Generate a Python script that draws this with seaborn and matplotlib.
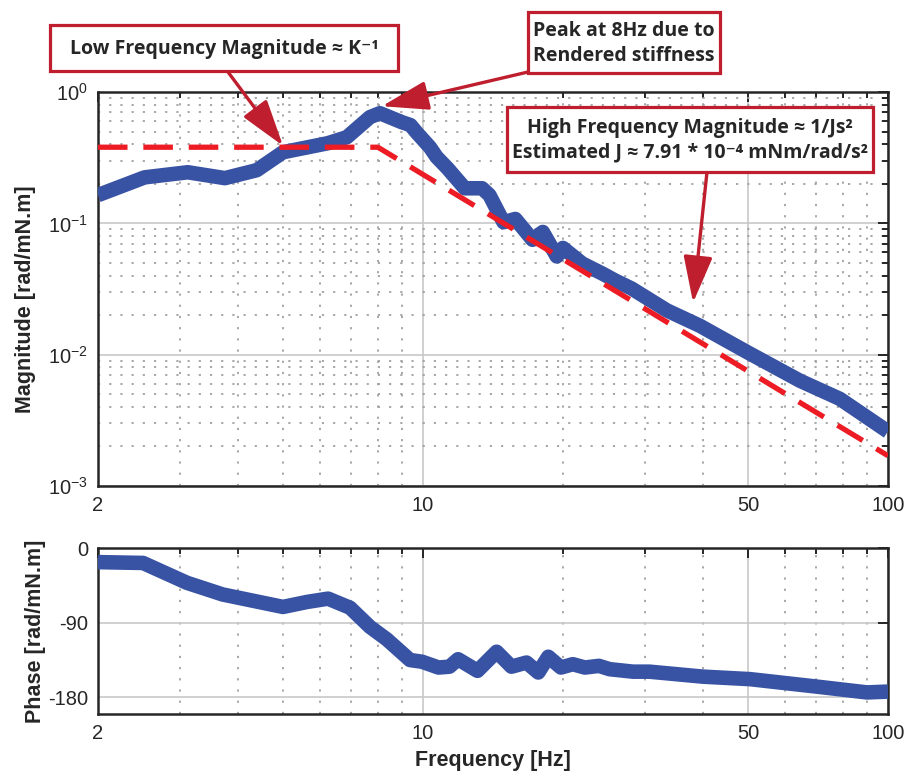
import numpy as np
import pandas as pd
import matplotlib
matplotlib.use("Agg")
import matplotlib.pyplot as plt
import matplotlib.ticker as mticker
from matplotlib.patches import Rectangle
import seaborn as sns

# Magnitude response
mag_freq = [2.0, 2.52, 3.12, 3.75, 4.39, 5.0, 6.25, 6.86, 7.69, 8.08, 9.0, 9.4, 9.7,
            10.35, 10.7, 11.3, 12.3, 13.4, 13.9, 14.9, 15.8, 17.2, 18.1, 19.4, 20.0,
            22.0, 24.3, 25.9, 28.1, 33.5, 39.4, 49.7, 64.7, 78.8, 100.0]
mag_vals = [0.164, 0.224, 0.245, 0.221, 0.254, 0.348, 0.408, 0.453, 0.644, 0.69, 0.59, 0.56, 0.49,
            0.38, 0.32, 0.262, 0.185, 0.185, 0.164, 0.102, 0.108, 0.075, 0.086, 0.056, 0.065,
            0.0495, 0.0415, 0.0367, 0.0319, 0.0217, 0.0166, 0.0105, 0.00633, 0.00461, 0.0026]

# Fitted model (K^-1 plateau, then 1/Js^2 roll-off)
model_freq = [2.0, 8.0, 100.0]
model_vals = [0.38, 0.38, 0.0017]

# Phase response
phase_freq = [2.0, 2.5, 3.11, 3.71, 5.0, 5.63, 6.25, 6.97, 7.69, 8.36, 9.38, 9.95, 10.8,
              11.4, 11.9, 13.1, 14.4, 15.5, 16.7, 17.7, 18.6, 19.8, 21.0, 22.3, 23.9,
              25.2, 28.3, 30.7, 40.0, 50.5, 70.3, 90.1, 100.0]
phase_vals = [-17, -18, -42, -56, -71, -65, -61, -72, -95, -110, -135, -137, -144,
              -143, -134, -148, -125, -143, -138, -150, -131, -144, -140, -144, -142,
              -146, -149, -149, -155, -158, -167, -174, -173]

freq_ticks = [2, 10, 50, 100]
freq_minor = [3, 4, 5, 6, 7, 8, 9, 20, 30, 40, 60, 70, 80, 90]
phase_ticks = [-180, -90, 0]

BLUE = "#3953a4"
RED_DASH = "#ed1c24"
RED_BOX = "#be1e2d"
INK = "#262626"

sns.set_theme(style="white")
plt.rcParams["font.family"] = ["Liberation Sans", "DejaVu Sans"]
plt.rcParams["mathtext.fontset"] = "custom"
plt.rcParams["mathtext.rm"] = "Liberation Sans"
plt.rcParams["mathtext.it"] = "Liberation Sans"
plt.rcParams["axes.unicode_minus"] = False

mag_df = pd.DataFrame({"freq": mag_freq, "mag": mag_vals})
model_df = pd.DataFrame({"freq": model_freq, "mag": model_vals})
phase_df = pd.DataFrame({"freq": phase_freq, "phase": phase_vals})

W, H = 907, 776
fig = plt.figure(figsize=(W / 100, H / 100), dpi=100)
ax1 = fig.add_axes([0.108, 0.3737, 0.871, 0.5077])
ax2 = fig.add_axes([0.108, 0.0799, 0.871, 0.2139])


def style_axes(ax):
    ax.set_xscale("log")
    ax.set_xlim(2, 100)
    ax.xaxis.set_major_locator(mticker.FixedLocator(freq_ticks))
    ax.xaxis.set_minor_locator(mticker.FixedLocator(freq_minor))
    ax.xaxis.set_major_formatter(mticker.FixedFormatter([str(t) for t in freq_ticks]))
    ax.xaxis.set_minor_formatter(mticker.NullFormatter())
    ax.grid(which="major", color="#c8c8c8", linestyle="-", linewidth=1.2)
    ax.grid(which="minor", axis="x", color="#a0a0a0", linestyle=(0, (1.2, 5)), linewidth=1.3)
    ax.tick_params(which="both", direction="in", top=True, right=True,
                   color=INK, width=1.4, labelsize=14.5, colors=INK)
    ax.tick_params(which="major", length=7, pad=7)
    ax.tick_params(which="minor", length=4)
    for sp in ax.spines.values():
        sp.set_linewidth(1.8)
        sp.set_color(INK)
        sp.set_visible(True)
    ax.set_axisbelow(True)


# Magnitude plot
sns.lineplot(data=mag_df, x="freq", y="mag", ax=ax1, color=BLUE, linewidth=10.5,
             solid_joinstyle="round", solid_capstyle="butt", zorder=3)
sns.lineplot(data=model_df, x="freq", y="mag", ax=ax1, color=RED_DASH, linewidth=3.8,
             dashes=False, zorder=4)
ax1.lines[-1].set_dashes((5.6, 3.0))
style_axes(ax1)
ax1.set_yscale("log")
ax1.set_ylim(1e-3, 1)
ax1.yaxis.set_major_locator(mticker.LogLocator(base=10, numticks=10))
ax1.yaxis.set_minor_locator(mticker.LogLocator(base=10, subs=np.arange(2, 10), numticks=20))
ax1.yaxis.set_minor_formatter(mticker.NullFormatter())
ax1.grid(which="minor", axis="y", color="#a0a0a0", linestyle=(0, (1.2, 5)), linewidth=1.3)
ax1.set_xlabel("")
ax1.set_ylabel("Magnitude [rad/mN.m]", fontsize=15.5, fontweight="bold", color=INK)
ax1.yaxis.set_label_coords(-0.078, 0.475)

# Phase plot
sns.lineplot(data=phase_df, x="freq", y="phase", ax=ax2, color=BLUE, linewidth=10.5,
             solid_joinstyle="round", solid_capstyle="butt", zorder=3)
style_axes(ax2)
ax2.set_ylim(-200, 0)
ax2.yaxis.set_major_locator(mticker.FixedLocator(phase_ticks))
ax2.yaxis.set_minor_locator(mticker.NullLocator())
ax2.set_ylabel("Phase [rad/mN.m]", fontsize=15.5, fontweight="bold", color=INK)
ax2.yaxis.set_label_coords(-0.066, 0.5)
ax2.set_xlabel("Frequency [Hz]", fontsize=15.5, fontweight="bold", color=INK)
ax2.xaxis.set_label_coords(0.5, -0.215)

# Annotation boxes: (text, box left/top/right/bottom in px, arrow start in px, arrow tip in data)
box_font = ["Open Sans", "DejaVu Sans"]
arrow_kw = dict(arrowstyle="-|>,head_length=2.4,head_width=0.75", color=RED_BOX, lw=2.4,
                shrinkA=0, shrinkB=0)

annotations = [
    ("Low Frequency Magnitude \u2248 K\u207b\u00b9", (50, 25, 398, 71), (228, 72), (5.0, 0.39)),
    ("Peak at 8Hz due to\nRendered stiffness", (528, 12, 720, 73), (528, 72), (8.16, 0.78)),
    ("High Frequency Magnitude \u2248 1/Js\u00b2\nEstimated J \u2248 7.91 * 10\u207b\u2074 mNm/rad/s\u00b2",
     (507, 107, 873, 172), (707, 172), (38.1, 0.0249)),
]
for text, (x0, y0, x1, y1), (sx, sy), tip in annotations:
    ax1.annotate("", xy=tip, xycoords="data", xytext=(sx / W, 1 - sy / H),
                 textcoords="figure fraction", arrowprops=arrow_kw,
                 annotation_clip=False, zorder=6)
    fig.patches.append(Rectangle((x0 / W, 1 - y1 / H), (x1 - x0) / W, (y1 - y0) / H,
                                 transform=fig.transFigure, facecolor="white",
                                 edgecolor=RED_BOX, linewidth=2.3, zorder=9))
    fig.text((x0 + x1) / 2 / W, 1 - ((y0 + y1) / 2 + 1) / H, text, ha="center", va="center",
             fontsize=14, fontweight="bold", family=box_font, linespacing=1.3, zorder=10)

fig.savefig("out.png", dpi=100)
